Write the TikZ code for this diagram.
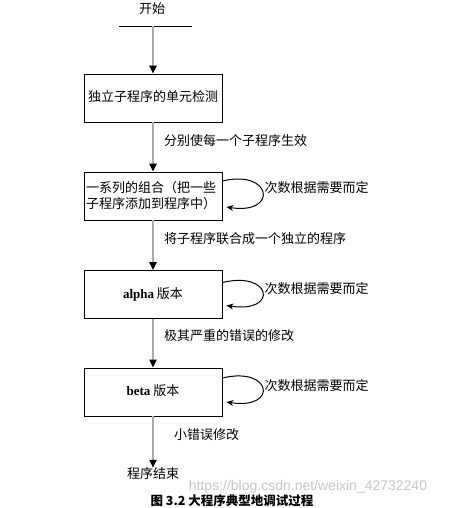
\documentclass[tikz,border=0pt]{standalone}
\usepackage{fontspec}
\setmainfont{Liberation Serif}
\newfontfamily\cjk{Noto Sans CJK SC}
\newfontfamily\wmfont{Liberation Sans}
\usetikzlibrary{arrows.meta}
\tikzset{stage/.append style={draw,thick,minimum width=138pt,minimum height=48pt,inner sep=2pt,font=\fontsize{13}{16}\selectfont\cjk}}
\tikzset{lbl/.append style={font=\fontsize{13}{16}\selectfont\cjk,inner sep=0pt}}
\tikzset{flow/.append style={draw=black!33,line width=2pt,-{Triangle[black,length=8pt,width=7pt]}}}
\tikzset{again/.append style={black,line width=1pt,-{Stealth[length=7pt,width=6pt]}}}

\begin{document}
\begin{tikzpicture}[x=1pt,y=-1pt]
                \useasboundingbox (0,0) rectangle (453,508);
                % \SetUpStages
                \node[lbl] (start) at (152,9) {开始};
                \coordinate (barl) at (119,26);
                \coordinate (barr) at (192,26);
                \coordinate (bar) at (153,26);
                \node[stage] (unit) at (153,98) {\raisebox{4pt}{独立子程序的单元检测}};
                \node[stage,text width=134pt,align=left] (combo) at (153,196) {\raisebox{9pt}{\parbox[t]{134pt}{一系列的组合（把一些\\子程序添加到程序中）}}};
                \node[stage] (alpha) at (153,294.5) {\raisebox{3pt}{\textrm{\textbf{alpha}} 版本}};
                \node[stage] (beta) at (153,392) {\raisebox{3pt}{\textrm{\textbf{beta}} 版本}};
                \node[lbl] (finish) at (153,474) {程序结束};
                \draw[thick] (barl) -- (barr);
                \path (bar) edge[flow] (unit.north);
                \path (unit) edge[flow] node[lbl,right=10pt,yshift=6pt]{分别使每一个子程序生效} (combo);
                \path (combo) edge[flow] node[lbl,right=10pt,yshift=6.5pt]{将子程序联合成一个独立的程序} (alpha);
                \path (alpha) edge[flow] node[lbl,right=10pt,yshift=8pt]{极其严重的错误的修改} (beta);
                \path (beta.south) edge[flow] node[lbl,right=20pt,yshift=8pt]{小错误修改} (finish.north);
                \draw[again] ([yshift=15pt]combo.east) .. controls +(50,-12) and +(52,8) .. ([xshift=4pt,yshift=-11pt]combo.east);
                \draw[again] ([yshift=12pt]alpha.east) .. controls +(50,-12) and +(52,8) .. ([xshift=4pt,yshift=-11pt]alpha.east);
                \draw[again] ([yshift=14pt]beta.east) .. controls +(50,-12) and +(52,8) .. ([xshift=4pt,yshift=-10pt]beta.east);
                \node[lbl,anchor=west] (times1) at ([xshift=42pt,yshift=8pt]combo.east) {次数根据需要而定};
                \node[lbl,anchor=west] (times2) at ([xshift=42pt,yshift=6pt]alpha.east) {次数根据需要而定};
                \node[lbl,anchor=west] (times3) at ([xshift=42pt,yshift=6pt]beta.east) {次数根据需要而定};
                \node[font=\fontsize{14}{17}\selectfont\wmfont,text=black!22,inner sep=0pt] (mark) at (308,487) {https://blog.csdn.net/weixin\_42732240};
                \node[lbl,font=\fontsize{12.5}{15}\selectfont\cjk\bfseries] (caption) at (232,501) {图 3.2 大程序典型地调试过程};
            \end{tikzpicture}
\end{document}
